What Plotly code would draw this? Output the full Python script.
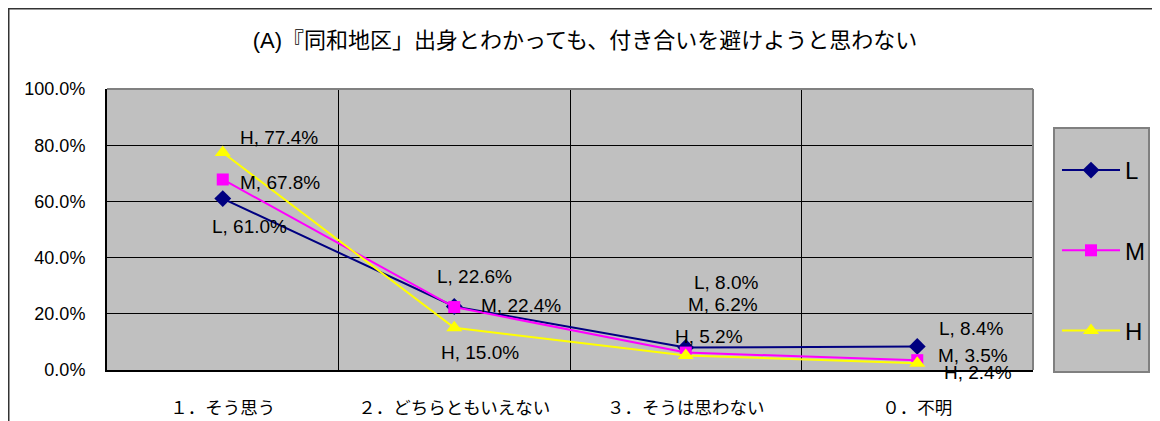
import plotly.graph_objects as go

categories = ["１．そう思う", "２．どちらともいえない", "３．そうは思わない", "０．不明"]
series_names = ["L", "M", "H"]
values_L = [61.0, 22.6, 8.0, 8.4]
values_M = [67.8, 22.4, 6.2, 3.5]
values_H = [77.4, 15.0, 5.2, 2.4]
title_text = "(A)『同和地区」出身とわかっても、付き合いを避けようと思わない"

series_values = {"L": values_L, "M": values_M, "H": values_H}
colors = {"L": "#000080", "M": "#ff00ff", "H": "#ffff00"}
symbols = {"L": "diamond", "M": "square", "H": "triangle-up"}
sizes = {"L": 13, "M": 12, "H": 14}

# label offsets (pixels) relative to each point
label_shift = {
    "L": [(27, -28), (20, 30), (41, 65), (54, 18)],
    "M": [(57, -3), (67, 2), (37, 48), (56, 5)],
    "H": [(56, 15), (26, -25), (23, 19), (61, -9)],
}

FONT = "Liberation Sans, Arial, Noto Sans CJK JP, sans-serif"

fig = go.Figure()
for name in series_names:
    fig.add_trace(go.Scatter(
        x=categories, y=series_values[name], name=name, mode="lines+markers",
        line=dict(color=colors[name], width=2),
        marker=dict(symbol=symbols[name], size=sizes[name], color=colors[name],
                    line=dict(width=0)),
        legendgroup=name,
    ))

annotations = []
for name in series_names:
    for i, (c, v) in enumerate(zip(categories, series_values[name])):
        dx, dy = label_shift[name][i]
        annotations.append(dict(
            x=c, y=v, xref="x", yref="y", text=f"{name}, {v:.1f}%",
            showarrow=False, xshift=dx, yshift=dy,
            font=dict(family=FONT, size=19, color="#000000"),
        ))

# page has an 8px body margin: figure origin is at page (8, 8)
OFF = 8
PAGE_W, PAGE_H = 1160, 421
W, H = PAGE_W - OFF, PAGE_H - OFF
# plot area in page pixels: x 107..1033, y 89..370
L_, R_, T_, B_ = 107, 1033, 89, 370
pw, ph = R_ - L_, B_ - T_
def px(x):
    return (x - L_) / pw
def py(y):
    return (B_ - y) / ph

shapes = [
    # outer frame
    dict(type="rect", xref="paper", yref="paper", x0=px(OFF + 0.75), x1=px(1156), y0=py(440), y1=py(OFF + 0.75),
         line=dict(color="#333333", width=1.5), fillcolor="rgba(0,0,0,0)", layer="below"),
    # legend box
    dict(type="rect", xref="paper", yref="paper", x0=px(1054), x1=px(1149), y0=py(372), y1=py(128),
         line=dict(color="#808080", width=2), fillcolor="#c0c0c0", layer="below"),
    # top & right plot border
    dict(type="line", xref="paper", yref="paper", x0=0, x1=1, y0=1, y1=1,
         line=dict(color="#808080", width=2)),
    dict(type="line", xref="paper", yref="paper", x0=1, x1=1, y0=0, y1=1,
         line=dict(color="#808080", width=2)),
]

fig.update_layout(
    width=W, height=H,
    margin=dict(l=L_ - OFF, r=PAGE_W - R_, t=T_ - OFF, b=PAGE_H - B_, pad=0, autoexpand=False),
    paper_bgcolor="#ffffff", plot_bgcolor="#c0c0c0",
    font=dict(family=FONT, color="#000000"),
    title=dict(text=title_text, x=(585 - OFF) / W, xanchor="center", xref="container",
               y=1 - (40 - OFF) / H, yanchor="middle", yref="container",
               font=dict(family=FONT, size=22, color="#000000")),
    showlegend=True,
    legend=dict(x=px(1057), xanchor="left", y=py(148), yanchor="top",
                bgcolor="rgba(0,0,0,0)", borderwidth=0,
                font=dict(family=FONT, size=24, color="#000000"),
                traceorder="grouped", tracegroupgap=46, itemwidth=58),
    annotations=annotations,
    shapes=shapes,
)

fig.update_xaxes(
    type="category", range=[-0.5, 3.5], showgrid=True, gridcolor="#000000", gridwidth=1,
    tickson="boundaries", ticks="inside", ticklen=6, tickcolor="#000000",
    showline=True, linecolor="#000000", linewidth=2,
    tickfont=dict(family="Noto Sans CJK JP, sans-serif", size=17.5, color="#000000"),
    ticklabelstandoff=21, zeroline=False, automargin=False,
)
fig.update_yaxes(
    range=[0, 100], dtick=20, tickformat=".1f", ticksuffix="%",
    showgrid=True, gridcolor="#000000", gridwidth=1,
    ticks="inside", ticklen=7, tickcolor="#000000",
    showline=True, linecolor="#000000", linewidth=2, zeroline=False,
    tickfont=dict(family=FONT, size=18, color="#000000"),
    ticklabelstandoff=16, automargin=False,
)

fig.write_html("out.html")
